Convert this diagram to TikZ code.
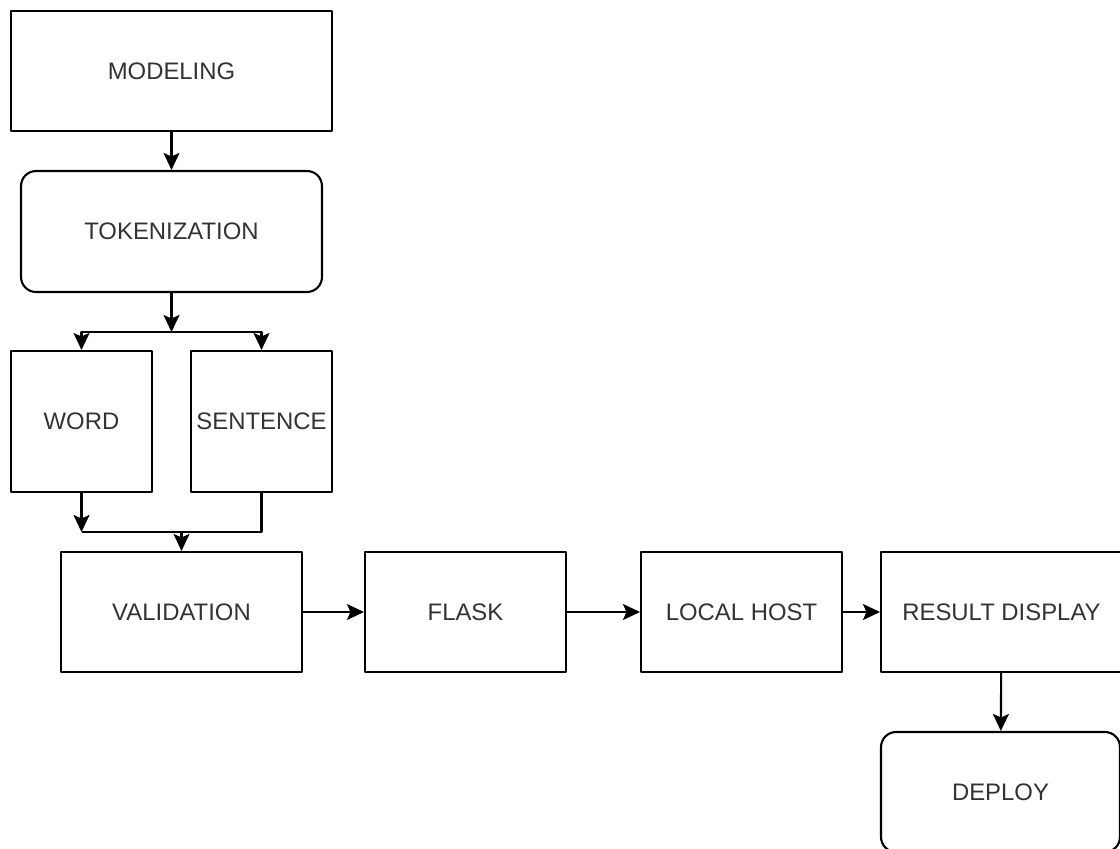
\documentclass[tikz,border=0pt]{standalone}
\usepackage{fontspec}
\setmainfont{Liberation Sans}
\usetikzlibrary{arrows.meta}
\begin{document}
\begin{tikzpicture}[x=0.02cm, y=-0.02cm, font=\fontsize{13.6}{16}\selectfont, line join=round, >={Stealth[length=0.34cm, width=0.32cm, inset=0.07cm]},
	box/.style={draw, line width=1.2pt, text=black!80, inner sep=0pt, minimum height=\h},
	rbox/.style={box, rounded corners=0.3cm},
	conn/.style={line width=1.2pt}]
	\def\h{2.4cm} % box height
	\useasboundingbox[fill=white] (0,0) rectangle (1120,849);
	\node[box, minimum width=6.42cm] (model) at (171.5,71) {MODELING};
	\node[rbox, minimum width=6.02cm, minimum height=2.42cm] (token) at (171.5,231.5) {TOKENIZATION};
	\node[box, minimum width=2.82cm, minimum height=2.82cm] (word) at (81.5,421.5) {WORD};
	\node[box, minimum width=2.82cm, minimum height=2.82cm] (sent) at (261.5,421.5) {SENTENCE};
	\node[box, minimum width=4.82cm] (valid) at (181.5,612) {VALIDATION};
	\node[box, minimum width=4.02cm] (flask) at (465.5,612) {FLASK};
	\node[box, minimum width=4.02cm] (host) at (741.5,612) {LOCAL HOST};
	\node[box, minimum width=4.82cm] (result) at (1001.5,612) {RESULT DISPLAY};
	\node[rbox, minimum width=4.78cm] (deploy) at (1000.5,792) {DEPLOY};
	\coordinate (split) at (171.5,332);
	\coordinate (merge) at (181.5,532);
	% connectors
	\draw[conn,->] (model) -- (token);
	\draw[conn,->] (token) -- (split);
	\draw[conn,->] (split) -| (word);
	\draw[conn,->] (split) -| (sent);
	\draw[conn,->] (word) -- (word |- merge);
	\draw[conn] (sent) |- (word |- merge);
	\draw[conn,->] (merge) -- (valid);
	\draw[conn,->] (valid) -- (flask);
	\draw[conn,->] (flask) -- (host);
	\draw[conn,->] (host) -- (result);
	\draw[conn,->] (result) -- (deploy);
\end{tikzpicture}
\end{document}
